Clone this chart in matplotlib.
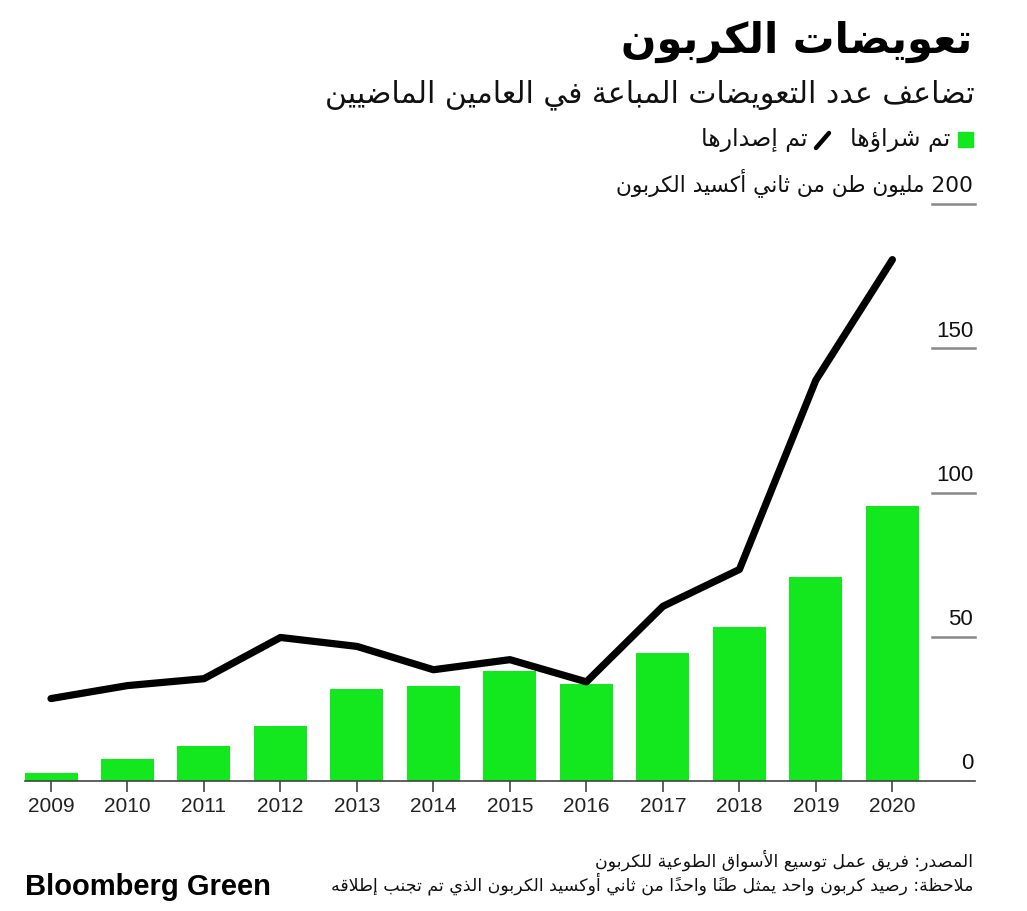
import matplotlib
matplotlib.use('Agg')
import matplotlib.pyplot as plt
from matplotlib.lines import Line2D
from matplotlib.patches import Rectangle

years = [2009, 2010, 2011, 2012, 2013, 2014, 2015, 2016, 2017, 2018, 2019, 2020]
bought = [2.8, 7.4, 12.1, 19.1, 31.7, 32.9, 38.2, 33.4, 44.3, 53.5, 70.7, 95.2]
issued = [28.5, 33.0, 35.4, 49.7, 46.6, 38.5, 42.0, 34.3, 60.5, 73.3, 139.0, 180.8]
yticks = [0, 50, 100, 150, 200]

title = "تعويضات الكربون"
subtitle = "تضاعف عدد التعويضات المباعة في العامين الماضيين"
leg_bought = "تم شراؤها"
leg_issued = "تم إصدارها"
unit_label = "200 مليون طن من ثاني أكسيد الكربون"
source = "المصدر: فريق عمل توسيع الأسواق الطوعية للكربون"
note = "ملاحظة: رصيد كربون واحد يمثل طناً واحداً من ثاني أوكسيد الكربون الذي تم تجنب إطلاقه"

GREEN = '#13e81f'

# --- tiny arabic shaper: matplotlib has no bidi / joining support ---
# letter -> (first presentation form, number of forms)
FORMS = {
    'ء': (0xFE80, 1), 'آ': (0xFE81, 2), 'أ': (0xFE83, 2), 'ؤ': (0xFE85, 2),
    'إ': (0xFE87, 2), 'ئ': (0xFE89, 4), 'ا': (0xFE8D, 2), 'ب': (0xFE8F, 4),
    'ة': (0xFE93, 2), 'ت': (0xFE95, 4), 'ث': (0xFE99, 4), 'ج': (0xFE9D, 4),
    'ح': (0xFEA1, 4), 'خ': (0xFEA5, 4), 'د': (0xFEA9, 2), 'ذ': (0xFEAB, 2),
    'ر': (0xFEAD, 2), 'ز': (0xFEAF, 2), 'س': (0xFEB1, 4), 'ش': (0xFEB5, 4),
    'ص': (0xFEB9, 4), 'ض': (0xFEBD, 4), 'ط': (0xFEC1, 4), 'ظ': (0xFEC5, 4),
    'ع': (0xFEC9, 4), 'غ': (0xFECD, 4), 'ف': (0xFED1, 4), 'ق': (0xFED5, 4),
    'ك': (0xFED9, 4), 'ل': (0xFEDD, 4), 'م': (0xFEE1, 4), 'ن': (0xFEE5, 4),
    'ه': (0xFEE9, 4), 'و': (0xFEED, 2), 'ى': (0xFEEF, 2), 'ي': (0xFEF1, 4),
}
LAM_ALEF = {'آ': 0xFEF5, 'أ': 0xFEF7, 'إ': 0xFEF9, 'ا': 0xFEFB}


def is_mark(c):
    return 0x064B <= ord(c) <= 0x0652


def shape_word(word):
    # returns list of clusters in logical order
    letters = []
    for c in word:
        if is_mark(c) and letters:
            letters[-1][1] += c
        else:
            letters.append([c, ''])
    # lam-alef ligatures
    merged = []
    i = 0
    while i < len(letters):
        c = letters[i][0]
        if c == 'ل' and i + 1 < len(letters) and letters[i + 1][0] in LAM_ALEF:
            merged.append(['LA' + letters[i + 1][0], letters[i][1] + letters[i + 1][1]])
            i += 2
        else:
            merged.append(letters[i])
            i += 1
    out = []
    for i, (c, marks) in enumerate(merged):
        key = c[2:] if c.startswith('LA') else c
        if key not in FORMS:
            out.append(c + marks)
            continue
        prev = merged[i - 1][0] if i > 0 else None
        nxt = merged[i + 1][0] if i + 1 < len(merged) else None
        join_prev = prev is not None and not prev.startswith('LA') and prev in FORMS and FORMS[prev][1] == 4
        if c.startswith('LA'):
            base = LAM_ALEF[key]
            out.append(chr(base + (1 if join_prev else 0)) + marks)
            continue
        base, n = FORMS[c]
        nk = nxt[2:] if (nxt and nxt.startswith('LA')) else nxt
        join_next = n == 4 and nk is not None and (nk in FORMS or (nxt and nxt.startswith('LA')))
        if n == 1:
            form = 0
        elif n == 2:
            form = 1 if join_prev else 0
        else:
            if join_prev and join_next:
                form = 3
            elif join_prev:
                form = 1
            elif join_next:
                form = 2
            else:
                form = 0
        out.append(chr(base + form) + marks)
    return out


def ar(text):
    words = text.split(' ')
    vis = []
    for w in reversed(words):
        if any('\u0600' <= c <= '\u06FF' for c in w):
            vis.append(''.join(reversed(shape_word(w))))
        else:
            vis.append(w)
    return ' '.join(vis)


plt.rcParams['font.family'] = ['DejaVu Sans']

fig = plt.figure(figsize=(10.27, 9.11), dpi=100)
W, H = 1027, 911
ax = fig.add_axes([25 / W, 1 - 780.7 / H, 950 / W, (780.7 - 204.3) / H])

ax.bar(years, bought, width=0.693, color=GREEN, zorder=2)
ax.plot(years, issued, color='black', linewidth=5.2, solid_capstyle='round',
        solid_joinstyle='round', zorder=3)

ax.set_xlim(2008.66, 2021.08)
ax.set_ylim(0, 200)
for s in ['top', 'right', 'left']:
    ax.spines[s].set_visible(False)
ax.spines['bottom'].set_color('#444444')
ax.spines['bottom'].set_linewidth(1.2)
ax.set_yticks([])
ax.set_xticks(years)
ax.set_xticklabels([str(y) for y in years], fontsize=15, color='#222222',
                   family='Liberation Sans')
ax.tick_params(axis='x', length=8, width=1.2, color='#444444', pad=4)

ytr = ax.get_yaxis_transform()
for v in yticks:
    if v > 0:
        ax.plot([0.955, 1.0], [v, v], transform=ytr, color='#888888',
                linewidth=1.8, clip_on=False, zorder=1)
    if v < 200:
        ax.text(0.998, v + 2.3, str(v), transform=ytr, ha='right', va='bottom',
                fontsize=16, family='Liberation Sans', color='#111111')

# header
fig.text(972 / W, 1 - 42 / H, ar(title), ha='right', va='center',
         fontsize=30, fontweight='bold', color='black')
fig.text(975 / W, 1 - 95 / H, ar(subtitle), ha='right', va='center',
         fontsize=21.5, color='#111111')

# legend
fig.patches.append(Rectangle((958 / W, 1 - 147 / H), 15 / W, 15 / H,
                             transform=fig.transFigure, color=GREEN))
fig.text(950 / W, 1 - 140 / H, ar(leg_bought), ha='right', va='center',
         fontsize=17, color='#111111')
fig.lines.append(Line2D([816 / W, 829 / W], [1 - 148 / H, 1 - 133 / H],
                        transform=fig.transFigure, color='black', linewidth=3.2,
                        solid_capstyle='round'))
fig.text(808 / W, 1 - 140 / H, ar(leg_issued), ha='right', va='center',
         fontsize=17, color='#111111')
fig.text(973 / W, 1 - 183 / H, ar(unit_label), ha='right', va='center',
         fontsize=15.7, color='#111111')

# footer
fig.text(973 / W, 1 - 860 / H, ar(source), ha='right', va='center',
         fontsize=12.5, color='#111111')
fig.text(973 / W, 1 - 884 / H, ar(note), ha='right', va='center',
         fontsize=12.5, color='#111111')
fig.text(25 / W, 1 - 887 / H, 'Bloomberg Green', ha='left', va='center',
         fontsize=21, fontweight='bold', family='Liberation Sans', color='black')

fig.savefig('out.png', dpi=100, facecolor='white')
